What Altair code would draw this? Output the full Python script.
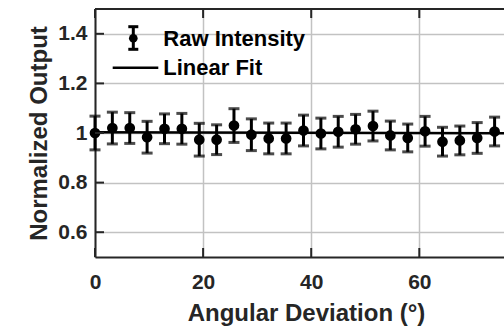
import altair as alt
import pandas as pd

# ---- data ----
angles = [0, 3.21, 6.43, 9.64, 12.86, 16.07, 19.29, 22.5, 25.71, 28.93, 32.14, 35.36,
          38.57, 41.79, 45.0, 48.21, 51.43, 54.64, 57.86, 61.07, 64.29, 67.5, 70.71, 73.93]
intensity = [1.0, 1.02, 1.02, 0.983, 1.017, 1.017, 0.973, 0.973, 1.03, 0.993, 0.978, 0.978,
             1.01, 0.998, 1.005, 1.015, 1.028, 0.99, 0.98, 1.007, 0.965, 0.97, 0.98, 1.006]
errors = [0.068, 0.064, 0.062, 0.064, 0.06, 0.062, 0.066, 0.06, 0.068, 0.064, 0.062, 0.062,
          0.062, 0.062, 0.062, 0.06, 0.06, 0.058, 0.056, 0.06, 0.058, 0.058, 0.062, 0.058]
fit_x = [0, 90]
fit_y = [1.003, 0.998]
x_ticks = [0, 20, 40, 60]
y_ticks = [0.6, 0.8, 1.0, 1.2, 1.4]
legend_labels = ["Raw Intensity", "Linear Fit"]

W, H = 409, 248
FONT = "Liberation Sans"
AX = "#262626"

df = pd.DataFrame({"angle": angles, "val": intensity, "err": errors})
df["lo"] = df["val"] - df["err"]
df["hi"] = df["val"] + df["err"]
fit_df = pd.DataFrame({"angle": fit_x, "val": fit_y})
xt_df = pd.DataFrame({"angle": x_ticks})
yt_df = pd.DataFrame({"val": y_ticks})
one = pd.DataFrame({"a": [0]})

xs = alt.Scale(domain=[0, 75.67], nice=False, zero=False)
ys = alt.Scale(domain=[0.5, 1.5], nice=False, zero=False)

x_axis = alt.Axis(values=x_ticks, format="d", grid=True, ticks=False, labelFlush=False,
                  labelFontSize=21, labelFontWeight="bold", labelColor=AX, labelFont=FONT,
                  labelPadding=14, domainColor=AX, domainWidth=2,
                  gridColor="#c2c2c2", gridWidth=1.5,
                  title="Angular Deviation (°)", titleFont=FONT, titleFontSize=24,
                  titleFontWeight="bold", titleColor=AX, titleX=211, titleY=63,
                  titleBaseline="alphabetic", titleAlign="center")
y_axis = alt.Axis(values=y_ticks, format="~g", grid=True, ticks=False, labelFlush=False,
                  labelFontSize=21, labelFontWeight="bold", labelColor=AX, labelFont=FONT,
                  labelPadding=8, domainColor=AX, domainWidth=2,
                  gridColor="#c2c2c2", gridWidth=1.5,
                  title="Normalized Output", titleFont=FONT, titleFontSize=24,
                  titleFontWeight="bold", titleColor=AX, titleX=-49, titleY=H / 2,
                  titleAngle=-90, titleBaseline="alphabetic", titleAlign="center")


def X(field):
    return alt.X(f"{field}:Q", scale=xs, axis=x_axis)


def Y(field):
    return alt.Y(f"{field}:Q", scale=ys, axis=y_axis)


bars = alt.Chart(df).mark_rule(color="black", strokeWidth=3).encode(
    x=X("angle"), y=Y("lo"), y2="hi:Q")
cap_lo = alt.Chart(df).mark_tick(color="black", orient="horizontal", size=11,
                                 thickness=3).encode(x=X("angle"), y=Y("lo"))
cap_hi = alt.Chart(df).mark_tick(color="black", orient="horizontal", size=11,
                                 thickness=3).encode(x=X("angle"), y=Y("hi"))
fit = alt.Chart(fit_df).mark_line(color="black", strokeWidth=2.4, clip=True).encode(
    x=X("angle"), y=Y("val"))
pts = alt.Chart(df).mark_circle(color="black", size=115, opacity=1).encode(
    x=X("angle"), y=Y("val"))

# inward ticks (MATLAB style)
xt_bottom = alt.Chart(xt_df).mark_rule(color=AX, strokeWidth=2).encode(
    x=X("angle"), y=alt.value(H), y2=alt.value(H - 9))
xt_top = alt.Chart(xt_df).mark_rule(color=AX, strokeWidth=2).encode(
    x=X("angle"), y=alt.value(0), y2=alt.value(9))
yt_left = alt.Chart(yt_df).mark_rule(color=AX, strokeWidth=2).encode(
    y=Y("val"), x=alt.value(0), x2=alt.value(9))
top_border = alt.Chart(one).mark_rule(color=AX, strokeWidth=2).encode(
    x=alt.value(0), x2=alt.value(W), y=alt.value(0))

# manual legend
lg_bar = alt.Chart(one).mark_rule(color="black", strokeWidth=3).encode(
    x=alt.value(38.3), y=alt.value(17.7), y2=alt.value(40.3))
lg_cap1 = alt.Chart(one).mark_rule(color="black", strokeWidth=3).encode(
    x=alt.value(33.3), x2=alt.value(43.3), y=alt.value(17.7))
lg_cap2 = alt.Chart(one).mark_rule(color="black", strokeWidth=3).encode(
    x=alt.value(33.3), x2=alt.value(43.3), y=alt.value(40.3))
lg_pt = alt.Chart(one).mark_circle(color="black", size=75, opacity=1).encode(
    x=alt.value(38.3), y=alt.value(29.3))
lg_line = alt.Chart(one).mark_rule(color="black", strokeWidth=2.4).encode(
    x=alt.value(17.7), x2=alt.value(63.3), y=alt.value(58.7))
lg_t1 = alt.Chart(one).mark_text(text=legend_labels[0], align="left", baseline="middle",
                                 font=FONT, fontSize=22, fontWeight="bold", color="black").encode(
    x=alt.value(68.3), y=alt.value(29.5))
lg_t2 = alt.Chart(one).mark_text(text=legend_labels[1], align="left", baseline="middle",
                                 font=FONT, fontSize=22, fontWeight="bold", color="black").encode(
    x=alt.value(68.3), y=alt.value(58.9))

chart = alt.layer(
    bars, cap_lo, cap_hi, fit, pts, xt_bottom, xt_top, yt_left, top_border,
    lg_bar, lg_cap1, lg_cap2, lg_pt, lg_line, lg_t1, lg_t2,
).properties(
    width=W, height=H,
    autosize=alt.AutoSizeParams(type="none"),
    padding={"left": 95, "top": 9, "right": 0, "bottom": 71},
    background="white",
).configure_view(stroke=None)

chart.save("out.html", embed_options={"renderer": "svg", "actions": False})
